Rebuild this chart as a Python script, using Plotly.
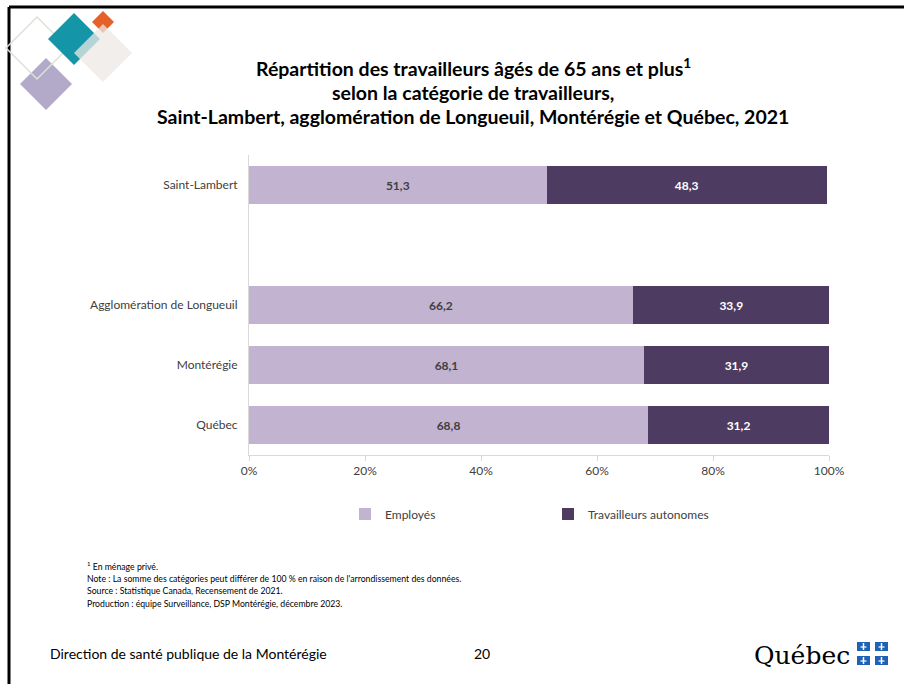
import plotly.graph_objects as go

# ---------------- data ----------------
axis_categories = ["Saint-Lambert", " ", "Agglomération de Longueuil", "Montérégie", "Québec"]
categories = ["Saint-Lambert", "Agglomération de Longueuil", "Montérégie", "Québec"]
employes = [51.3, 66.2, 68.1, 68.8]
autonomes = [48.3, 33.9, 31.9, 31.2]
series_names = ["Employés", "Travailleurs autonomes"]
x_tickvals = [0, 20, 40, 60, 80, 100]
x_ticktext = ["0%", "20%", "40%", "60%", "80%", "100%"]

title_lines = [
    "Répartition des travailleurs âgés de 65 ans et plus<sup>1</sup>",
    "selon la catégorie de travailleurs,",
    "Saint-Lambert, agglomération de Longueuil, Montérégie et Québec, 2021",
]
footnotes = [
    "<sup>1</sup> En ménage privé.",
    "Note : La somme des catégories peut différer de 100 % en raison de l'arrondissement des données.",
    "Source : Statistique Canada, Recensement de 2021.",
    "Production : équipe Surveillance, DSP Montérégie, décembre 2023.",
]
footer_left = "Direction de santé publique de la Montérégie"
page_number = "20"

# ---------------- styling ----------------
W, H = 904, 684
L, R, T, B = 249, 829, 155, 455
FONT = "Lato"
C_LIGHT = "#C2B3D1"
C_DARK = "#4D3B61"


def fmt(v):
    return f"{v:.1f}".replace(".", ",")


def X(px):
    return (px - L) / (R - L)


def Y(py):
    return (B - py) / (B - T)


fig = go.Figure()
fig.add_trace(go.Bar(
    y=categories, x=employes, orientation="h", name=series_names[0],
    marker=dict(color=C_LIGHT, line=dict(width=0)),
    text=[fmt(v) for v in employes], textposition="inside", insidetextanchor="middle",
    textangle=0, textfont=dict(family=FONT, size=12, color="#404040", weight="bold"),
    hoverinfo="skip",
))
fig.add_trace(go.Bar(
    y=categories, x=autonomes, orientation="h", name=series_names[1],
    marker=dict(color=C_DARK, line=dict(width=0)),
    text=[fmt(v) for v in autonomes], textposition="inside", insidetextanchor="middle",
    textangle=0, textfont=dict(family=FONT, size=12, color="white", weight="bold"),
    hoverinfo="skip",
))

fig.update_layout(
    width=W, height=H, barmode="stack", bargap=0.37,
    margin=dict(l=L, r=W - R, t=T, b=H - B, pad=0),
    paper_bgcolor="white", plot_bgcolor="white",
    font=dict(family=FONT, size=12, color="#404040"),
    uniformtext=dict(minsize=8, mode="show"),
    xaxis=dict(range=[0, 100], tickvals=x_tickvals, ticktext=x_ticktext,
               showgrid=False, zeroline=False, showline=True, linecolor="#D9D9D9",
               linewidth=1, ticks="outside", tickcolor="#D9D9D9", ticklen=5,
               tickfont=dict(family=FONT, size=12, color="#404040"), fixedrange=True),
    yaxis=dict(type="category", categoryorder="array", categoryarray=axis_categories,
               range=[4.5, -0.5],
               showgrid=False, zeroline=False, showline=True, linecolor="#D9D9D9",
               linewidth=1, ticks="", ticklabelstandoff=8,
               tickfont=dict(family=FONT, size=12, color="#404040"), fixedrange=True),
    legend=dict(orientation="h", x=X(345), y=Y(514), xanchor="left", yanchor="middle",
                font=dict(family=FONT, size=12, color="#404040"),
                itemwidth=30, entrywidth=158, entrywidthmode="pixels",
                traceorder="normal", bgcolor="rgba(0,0,0,0)"),
    showlegend=True,
)

ann = []
# title
for line, py in zip(title_lines, [68, 92, 117]):
    ann.append(dict(x=X(473), y=Y(py), xref="paper", yref="paper", text=f"<b>{line}</b>",
                    showarrow=False, xanchor="center", yanchor="middle",
                    font=dict(family=FONT, size=19.5, color="#000000")))
# footnotes
for line, py in zip(footnotes, [566, 578, 590, 603]):
    ann.append(dict(x=X(85), y=Y(py), xref="paper", yref="paper", text=line,
                    showarrow=False, xanchor="left", yanchor="middle",
                    font=dict(family=FONT, size=8.7, color="#000000")))
# footer
ann.append(dict(x=X(48), y=Y(653), xref="paper", yref="paper", text=footer_left,
                showarrow=False, xanchor="left", yanchor="middle",
                font=dict(family=FONT, size=14, color="#000000")))
ann.append(dict(x=X(482), y=Y(653), xref="paper", yref="paper", text=page_number,
                showarrow=False, xanchor="center", yanchor="middle",
                font=dict(family=FONT, size=14, color="#000000")))
ann.append(dict(x=X(852), y=Y(655), xref="paper", yref="paper", text="Québec",
                showarrow=False, xanchor="right", yanchor="middle",
                font=dict(family="DejaVu Serif", size=25, color="#000000")))

shapes = []
# frame
shapes.append(dict(type="line", xref="paper", yref="paper", x0=X(9), x1=X(904), y0=Y(7), y1=Y(7),
                   line=dict(color="black", width=3)))
shapes.append(dict(type="line", xref="paper", yref="paper", x0=X(9), x1=X(9), y0=Y(7), y1=Y(684),
                   line=dict(color="black", width=3)))


def diamond(cx, cy, r, fill, line_color=None, lw=0):
    path = (f"M {X(cx - r)},{Y(cy)} L {X(cx)},{Y(cy - r)} L {X(cx + r)},{Y(cy)} "
            f"L {X(cx)},{Y(cy + r)} Z")
    return dict(type="path", xref="paper", yref="paper", path=path, fillcolor=fill,
                line=dict(color=line_color or "rgba(0,0,0,0)", width=lw))


shapes.append(diamond(46, 84, 26, "#B3A9C9"))
shapes.append(diamond(37, 48, 31, "rgba(0,0,0,0)", line_color="#DCE3D6", lw=1.5))
shapes.append(diamond(74, 39, 26, "#1496A8"))
shapes.append(diamond(103, 22, 11, "#E6612A"))
shapes.append(diamond(103, 53, 29, "rgba(236,232,230,0.75)"))

# Québec flag blocks with small white fleur marks
for x0, x1 in [(857, 870), (875, 888)]:
    for y0, y1 in [(642, 651), (656, 665)]:
        shapes.append(dict(type="rect", xref="paper", yref="paper", x0=X(x0), x1=X(x1),
                           y0=Y(y1), y1=Y(y0), fillcolor="#1F62B5", line=dict(width=0)))
        cx, cy = (x0 + x1) / 2, (y0 + y1) / 2
        shapes.append(dict(type="line", xref="paper", yref="paper", x0=X(cx), x1=X(cx),
                           y0=Y(cy - 3.5), y1=Y(cy + 3.5), line=dict(color="white", width=1.5)))
        shapes.append(dict(type="line", xref="paper", yref="paper", x0=X(cx - 3), x1=X(cx + 3),
                           y0=Y(cy + 0.5), y1=Y(cy + 0.5), line=dict(color="white", width=1.2)))

fig.update_layout(annotations=ann, shapes=shapes)
fig.write_html("out.html", config={"displayModeBar": False},
               post_script="document.body.style.margin='0';")
